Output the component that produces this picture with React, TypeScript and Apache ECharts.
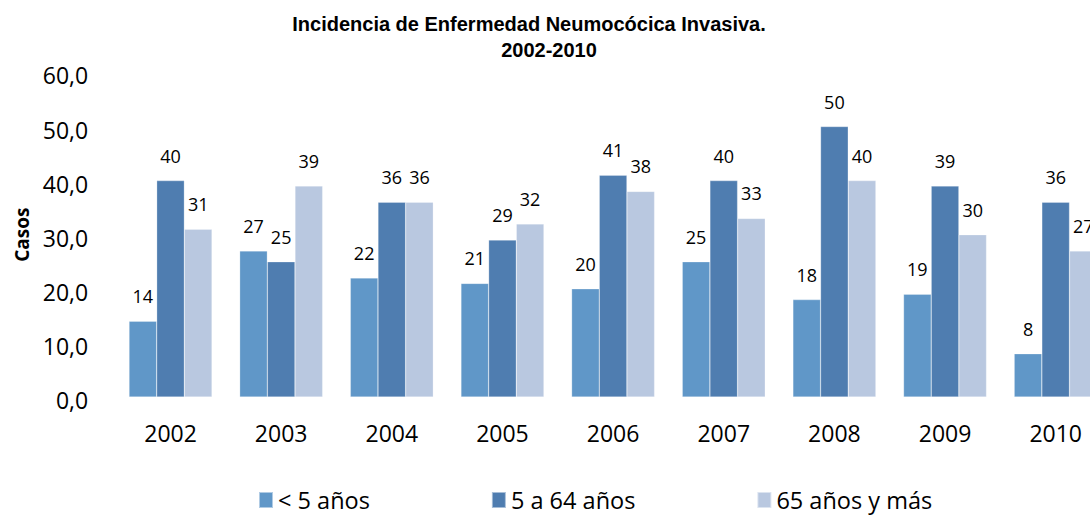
import React, { useEffect, useRef } from "react";
import * as echarts from "echarts";

const categories = ["2002", "2003", "2004", "2005", "2006", "2007", "2008", "2009", "2010"];
const seriesNames = ["< 5 años", "5 a 64 años", "65 años y más"];
const under5 = [14, 27, 22, 21, 20, 25, 18, 19, 8];
const age5to64 = [40, 25, 36, 29, 41, 40, 50, 39, 36];
const age65plus = [31, 39, 36, 32, 38, 33, 40, 30, 27];
const colors = ["#6097c8", "#4f7db0", "#b9c8e0"];
const titleLine1 = "Incidencia de Enfermedad Neumocócica Invasiva.";
const titleLine2 = "2002-2010";
const yAxisName = "Casos";

const FONT = "'Open Sans', 'Liberation Sans', sans-serif";
const TITLE_FONT = "'Liberation Sans', sans-serif";

export default function App() {
  const ref = useRef<HTMLDivElement>(null);
  useEffect(() => {
    if (!ref.current) return;
    const chart = echarts.init(ref.current, null, { renderer: "svg" });
    const values = [under5, age5to64, age65plus];
    chart.setOption({
      animation: false,
      backgroundColor: "#ffffff",
      textStyle: { fontFamily: FONT },
      graphic: [
        {
          type: "text",
          x: 529,
          y: 24,
          style: {
            text: titleLine1,
            textAlign: "center",
            textVerticalAlign: "middle",
            font: `bold 20px ${TITLE_FONT}`,
            fill: "#000",
          },
        },
        {
          type: "text",
          x: 549,
          y: 50,
          style: {
            text: titleLine2,
            textAlign: "center",
            textVerticalAlign: "middle",
            font: `bold 20px ${TITLE_FONT}`,
            fill: "#000",
          },
        },
      ],
      legend: {
        left: 253,
        top: 483,
        itemWidth: 14,
        itemHeight: 16,
        itemGap: 121,
        icon: "rect",
        textStyle: { fontSize: 23.5, lineHeight: 22, color: "#000", fontFamily: FONT },
        data: seriesNames,
      },
      grid: { left: 115.2, right: 0, top: 72.4, bottom: 120 },
      xAxis: {
        type: "category",
        data: categories,
        axisLine: { show: false },
        axisTick: { show: false },
        axisLabel: { fontSize: 23, color: "#000", margin: 24, fontFamily: FONT },
      },
      yAxis: {
        type: "value",
        min: 0,
        max: 60,
        interval: 10,
        name: yAxisName,
        nameLocation: "middle",
        nameGap: 82,
        nameTextStyle: { fontSize: 19, fontWeight: "bold", color: "#000", fontFamily: FONT },
        axisLine: { show: false },
        axisTick: { show: false },
        splitLine: { show: false },
        axisLabel: {
          color: "#000",
          margin: 27,
          fontFamily: FONT,
          formatter: (v: number) => "{a|" + v.toFixed(1).replace(".", ",") + "}",
          rich: {
            a: { fontSize: 23, color: "#000", fontFamily: FONT, padding: [6, 0, 0, 0] },
          },
        },
      },
      series: seriesNames.map((name, i) => ({
        name,
        type: "bar",
        data: values[i],
        barGap: "0%",
        barCategoryGap: "25%",
        itemStyle: { color: colors[i], borderColor: "rgba(255,255,255,0.5)", borderWidth: 0.5 },
        label: {
          show: true,
          position: "top",
          distance: 16,
          fontSize: 18,
          color: "#000",
          fontFamily: FONT,
        },
      })),
    });
    return () => chart.dispose();
  }, []);
  return (
    <div style={{ position: "absolute", left: 0, top: 0, width: 1090, height: 517, overflow: "hidden" }}>
      <div ref={ref} style={{ width: 1111, height: 517 }} />
    </div>
  );
}
